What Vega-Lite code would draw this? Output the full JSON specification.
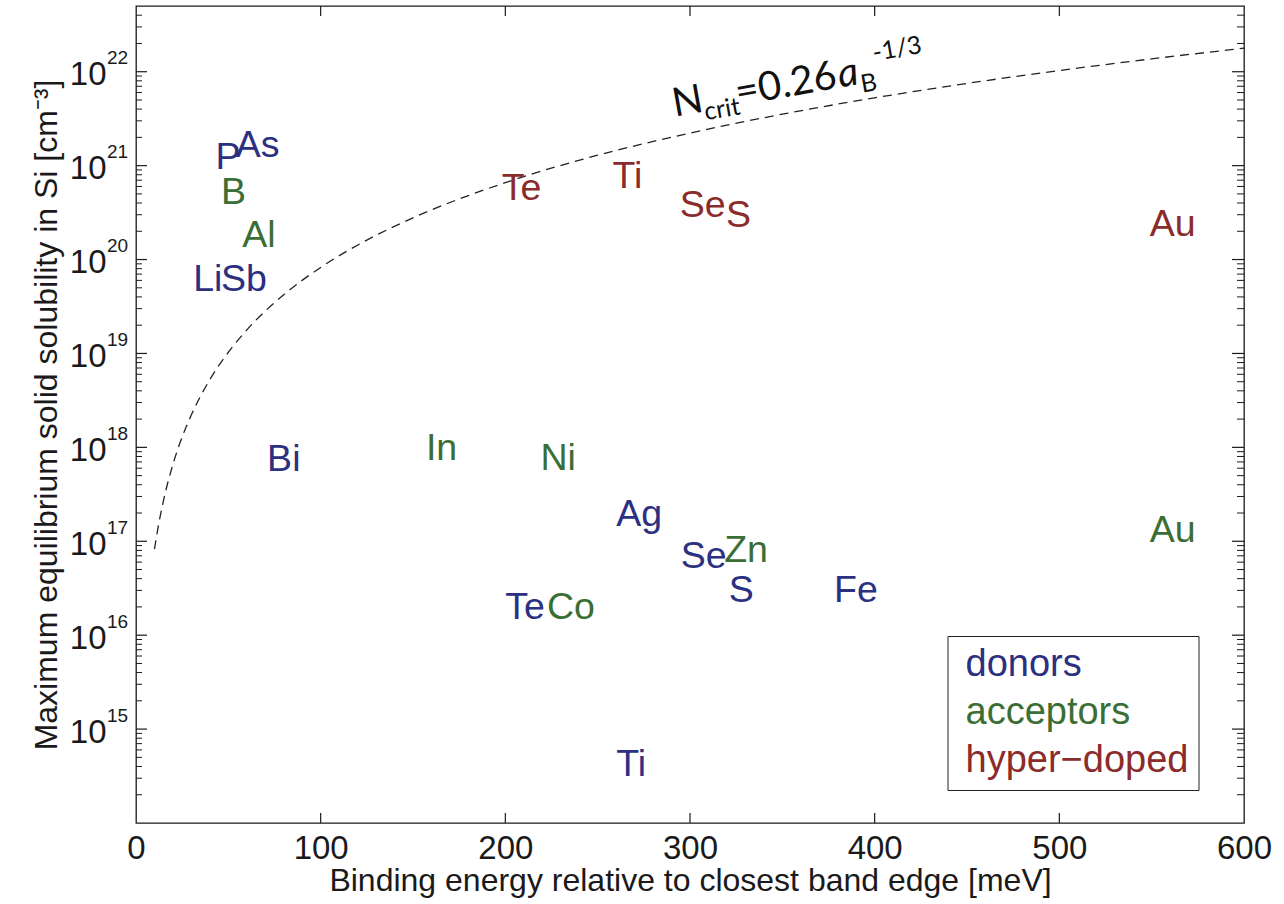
{
  "$schema": "https://vega.github.io/schema/vega-lite/v6.json",
  "width": 1108,
  "height": 817,
  "autosize": {"type": "none"},
  "padding": {"left": 136, "top": 6, "right": 40, "bottom": 81},
  "background": "white",
  "datasets": {
    "decades": [
      {"v": 1e15}, {"v": 1e16}, {"v": 1e17}, {"v": 1e18}, {"v": 1e19}, {"v": 1e20}, {"v": 1e21}, {"v": 1e22}
    ],
    "subdecades": [
      {"v": 2e14}, {"v": 3e14}, {"v": 4e14}, {"v": 5e14}, {"v": 6e14}, {"v": 7e14}, {"v": 8e14}, {"v": 9e14},
      {"v": 2e15}, {"v": 3e15}, {"v": 4e15}, {"v": 5e15}, {"v": 6e15}, {"v": 7e15}, {"v": 8e15}, {"v": 9e15},
      {"v": 2e16}, {"v": 3e16}, {"v": 4e16}, {"v": 5e16}, {"v": 6e16}, {"v": 7e16}, {"v": 8e16}, {"v": 9e16},
      {"v": 2e17}, {"v": 3e17}, {"v": 4e17}, {"v": 5e17}, {"v": 6e17}, {"v": 7e17}, {"v": 8e17}, {"v": 9e17},
      {"v": 2e18}, {"v": 3e18}, {"v": 4e18}, {"v": 5e18}, {"v": 6e18}, {"v": 7e18}, {"v": 8e18}, {"v": 9e18},
      {"v": 2e19}, {"v": 3e19}, {"v": 4e19}, {"v": 5e19}, {"v": 6e19}, {"v": 7e19}, {"v": 8e19}, {"v": 9e19},
      {"v": 2e20}, {"v": 3e20}, {"v": 4e20}, {"v": 5e20}, {"v": 6e20}, {"v": 7e20}, {"v": 8e20}, {"v": 9e20},
      {"v": 2e21}, {"v": 3e21}, {"v": 4e21}, {"v": 5e21}, {"v": 6e21}, {"v": 7e21}, {"v": 8e21}, {"v": 9e21},
      {"v": 2e22}, {"v": 3e22}, {"v": 4e22}
    ],
    "energyTicks": [
      {"e": 100}, {"e": 200}, {"e": 300}, {"e": 400}, {"e": 500}
    ]
  },
  "config": {
    "view": {"stroke": "#1a1a1a", "strokeWidth": 1.3},
    "font": "Liberation Sans",
    "axis": {
      "grid": false,
      "domain": false,
      "ticks": false,
      "labelFont": "Liberation Sans",
      "titleFont": "Liberation Sans",
      "labelColor": "#1a1a1a",
      "titleColor": "#1a1a1a",
      "titleFontWeight": "normal",
      "labelOverlap": false,
      "labelFlush": false
    }
  },
  "layer": [
    {
      "data": {
        "values": [
          {"E": 10, "N": 8.24e16},
          {"E": 12, "N": 1.42e17},
          {"E": 15, "N": 2.78e17},
          {"E": 20, "N": 6.59e17},
          {"E": 25, "N": 1.29e18},
          {"E": 30, "N": 2.22e18},
          {"E": 40, "N": 5.27e18},
          {"E": 50, "N": 1.03e19},
          {"E": 60, "N": 1.78e19},
          {"E": 80, "N": 4.22e19},
          {"E": 100, "N": 8.24e19},
          {"E": 125, "N": 1.61e20},
          {"E": 150, "N": 2.78e20},
          {"E": 200, "N": 6.59e20},
          {"E": 250, "N": 1.29e21},
          {"E": 300, "N": 2.22e21},
          {"E": 350, "N": 3.53e21},
          {"E": 400, "N": 5.27e21},
          {"E": 450, "N": 7.51e21},
          {"E": 500, "N": 1.03e22},
          {"E": 550, "N": 1.37e22},
          {"E": 600, "N": 1.78e22}
        ]
      },
      "mark": {"type": "line", "strokeDash": [9, 6], "strokeWidth": 1.3, "color": "#222222", "interpolate": "monotone"},
      "encoding": {
        "x": {
          "field": "E", "type": "quantitative",
          "scale": {"domain": [0, 600], "nice": false, "zero": false},
          "axis": {
            "orient": "bottom",
            "values": [0, 100, 200, 300, 400, 500, 600],
            "labelPadding": 9, "labelFontSize": 33,
            "title": "Binding energy relative to closest band edge [meV]",
            "titleFontSize": 32, "titlePadding": 0
          }
        },
        "y": {
          "field": "N", "type": "quantitative",
          "scale": {"type": "log", "domain": [1e14, 5.01e22], "nice": false},
          "axis": {
            "orient": "left",
            "values": [1e15, 1e16, 1e17, 1e18, 1e19, 1e20, 1e21, 1e22],
            "labelExpr": "round(log(datum.value) / LN10) + ''",
            "labelAlign": "left", "labelBaseline": "alphabetic",
            "labelPadding": 29.5, "labelOffset": -8, "labelFontSize": 19,
            "title": null
          }
        }
      }
    },
    {
      "data": {"name": "decades"},
      "mark": {"type": "tick", "orient": "horizontal", "size": 22, "thickness": 1.2, "color": "#1a1a1a", "opacity": 1, "clip": true},
      "encoding": {
        "x": {"datum": 0, "type": "quantitative", "scale": {"domain": [0, 600], "nice": false, "zero": false}, "axis": null},
        "y": {"field": "v", "type": "quantitative", "scale": {"type": "log", "domain": [1e14, 5.01e22], "nice": false}, "axis": null}
      }
    },
    {
      "data": {"name": "decades"},
      "mark": {"type": "tick", "orient": "horizontal", "size": 24, "thickness": 1.2, "color": "#1a1a1a", "opacity": 1, "clip": true},
      "encoding": {
        "x": {"datum": 600, "type": "quantitative", "scale": {"domain": [0, 600], "nice": false, "zero": false}, "axis": null},
        "y": {"field": "v", "type": "quantitative", "scale": {"type": "log", "domain": [1e14, 5.01e22], "nice": false}, "axis": null}
      }
    },
    {
      "data": {"name": "subdecades"},
      "mark": {"type": "tick", "orient": "horizontal", "size": 12, "thickness": 1, "color": "#1a1a1a", "opacity": 1, "clip": true},
      "encoding": {
        "x": {"datum": 0, "type": "quantitative", "scale": {"domain": [0, 600], "nice": false, "zero": false}, "axis": null},
        "y": {"field": "v", "type": "quantitative", "scale": {"type": "log", "domain": [1e14, 5.01e22], "nice": false}, "axis": null}
      }
    },
    {
      "data": {"name": "subdecades"},
      "mark": {"type": "tick", "orient": "horizontal", "size": 14, "thickness": 1, "color": "#1a1a1a", "opacity": 1, "clip": true},
      "encoding": {
        "x": {"datum": 600, "type": "quantitative", "scale": {"domain": [0, 600], "nice": false, "zero": false}, "axis": null},
        "y": {"field": "v", "type": "quantitative", "scale": {"type": "log", "domain": [1e14, 5.01e22], "nice": false}, "axis": null}
      }
    },
    {
      "data": {"name": "energyTicks"},
      "mark": {"type": "tick", "orient": "vertical", "size": 20, "thickness": 1.2, "color": "#1a1a1a", "opacity": 1, "clip": true},
      "encoding": {
        "x": {"field": "e", "type": "quantitative", "scale": {"domain": [0, 600], "nice": false, "zero": false}, "axis": null},
        "y": {"datum": 1e14, "type": "quantitative", "scale": {"type": "log", "domain": [1e14, 5.01e22], "nice": false}, "axis": null}
      }
    },
    {
      "data": {"name": "energyTicks"},
      "mark": {"type": "tick", "orient": "vertical", "size": 20, "thickness": 1.2, "color": "#1a1a1a", "opacity": 1, "clip": true},
      "encoding": {
        "x": {"field": "e", "type": "quantitative", "scale": {"domain": [0, 600], "nice": false, "zero": false}, "axis": null},
        "y": {"datum": 5.01e22, "type": "quantitative", "scale": {"type": "log", "domain": [1e14, 5.01e22], "nice": false}, "axis": null}
      }
    },
    {
      "data": {
        "values": [
          {"el": "P", "E": 43, "S": 1.21e21, "kind": "donors"},
          {"el": "As", "E": 54, "S": 1.62e21, "kind": "donors"},
          {"el": "Li", "E": 31, "S": 6.1e19, "kind": "donors"},
          {"el": "Sb", "E": 46, "S": 6.1e19, "kind": "donors"},
          {"el": "Bi", "E": 71, "S": 7.4e17, "kind": "donors"},
          {"el": "Ag", "E": 260, "S": 1.9e17, "kind": "donors"},
          {"el": "Se", "E": 295, "S": 6.8e16, "kind": "donors"},
          {"el": "S", "E": 321, "S": 2.95e16, "kind": "donors"},
          {"el": "Fe", "E": 378, "S": 2.95e16, "kind": "donors"},
          {"el": "Te", "E": 200, "S": 1.95e16, "kind": "donors"},
          {"el": "Ti", "E": 260, "S": 4.1e14, "kind": "donors"},
          {"el": "B", "E": 46, "S": 5.1e20, "kind": "acceptors"},
          {"el": "Al", "E": 57.5, "S": 1.78e20, "kind": "acceptors"},
          {"el": "In", "E": 157, "S": 9.5e17, "kind": "acceptors"},
          {"el": "Ni", "E": 219, "S": 7.6e17, "kind": "acceptors"},
          {"el": "Zn", "E": 318.5, "S": 7.9e16, "kind": "acceptors"},
          {"el": "Co", "E": 222.5, "S": 1.95e16, "kind": "acceptors"},
          {"el": "Au", "E": 549, "S": 1.29e17, "kind": "acceptors"},
          {"el": "Te", "E": 198, "S": 5.7e20, "kind": "hyper−doped"},
          {"el": "Ti", "E": 258, "S": 7.6e20, "kind": "hyper−doped"},
          {"el": "Se", "E": 294.5, "S": 3.7e20, "kind": "hyper−doped"},
          {"el": "S", "E": 319.5, "S": 2.9e20, "kind": "hyper−doped"},
          {"el": "Au", "E": 549, "S": 2.33e20, "kind": "hyper−doped"}
        ]
      },
      "mark": {"type": "text", "align": "left", "baseline": "middle", "font": "Liberation Sans", "fontSize": 37.5},
      "encoding": {
        "x": {
          "field": "E", "type": "quantitative",
          "scale": {"domain": [0, 600], "nice": false, "zero": false},
          "axis": null
        },
        "y": {
          "field": "S", "type": "quantitative",
          "scale": {"type": "log", "domain": [1e14, 5.01e22], "nice": false},
          "axis": {
            "orient": "left",
            "values": [1e15, 1e16, 1e17, 1e18, 1e19, 1e20, 1e21, 1e22],
            "labelExpr": "'10'",
            "labelPadding": 30, "labelBaseline": "alphabetic", "labelOffset": 13, "labelFontSize": 33,
            "title": "Maximum equilibrium solid solubility in Si [cm⁻³]",
            "titleFontSize": 32, "titlePadding": 6
          }
        },
        "text": {"field": "el"},
        "color": {
          "field": "kind", "type": "nominal",
          "scale": {"domain": ["donors", "acceptors", "hyper−doped"], "range": ["#2b3080", "#3b6e34", "#8b2b2b"]},
          "legend": {
            "title": null,
            "orient": "none",
            "legendX": 811.5,
            "legendY": 630,
            "direction": "vertical",
            "strokeColor": "#222222",
            "fillColor": "#ffffff",
            "padding": 10,
            "symbolSize": 0,
            "symbolOpacity": 0,
            "symbolStrokeWidth": 0,
            "labelFont": "Liberation Sans",
            "labelFontSize": 38,
            "labelOffset": -30,
            "labelLimit": 400,
            "rowPadding": 10,
            "encode": {"labels": {"update": {"fill": {"scale": "color", "field": "value"}}}}
          }
        }
      }
    },
    {
      "data": {"values": [{}]},
      "mark": {"type": "text", "text": "N", "font": "Lato", "fontSize": 40, "angle": -10, "align": "left", "baseline": "alphabetic", "color": "#111111"},
      "encoding": {
        "x": {"datum": 291.7, "type": "quantitative", "scale": {"domain": [0, 600], "nice": false, "zero": false}, "axis": null},
        "y": {"datum": 3.32e21, "type": "quantitative", "scale": {"type": "log", "domain": [1e14, 5.01e22], "nice": false}, "axis": null}
      }
    },
    {
      "data": {"values": [{}]},
      "mark": {"type": "text", "text": "crit", "font": "Lato", "fontSize": 25, "angle": -10, "align": "left", "baseline": "alphabetic", "dx": 30, "dy": 9, "color": "#111111"},
      "encoding": {
        "x": {"datum": 291.7, "type": "quantitative", "scale": {"domain": [0, 600], "nice": false, "zero": false}, "axis": null},
        "y": {"datum": 3.32e21, "type": "quantitative", "scale": {"type": "log", "domain": [1e14, 5.01e22], "nice": false}, "axis": null}
      }
    },
    {
      "data": {"values": [{}]},
      "mark": {"type": "text", "text": "=0.26", "font": "Lato", "fontSize": 40, "angle": -10, "align": "left", "baseline": "alphabetic", "dx": 64, "color": "#111111"},
      "encoding": {
        "x": {"datum": 291.7, "type": "quantitative", "scale": {"domain": [0, 600], "nice": false, "zero": false}, "axis": null},
        "y": {"datum": 3.32e21, "type": "quantitative", "scale": {"type": "log", "domain": [1e14, 5.01e22], "nice": false}, "axis": null}
      }
    },
    {
      "data": {"values": [{}]},
      "mark": {"type": "text", "text": "a", "font": "Lato", "fontStyle": "italic", "fontSize": 40, "angle": -10, "align": "left", "baseline": "alphabetic", "dx": 168, "color": "#111111"},
      "encoding": {
        "x": {"datum": 291.7, "type": "quantitative", "scale": {"domain": [0, 600], "nice": false, "zero": false}, "axis": null},
        "y": {"datum": 3.32e21, "type": "quantitative", "scale": {"type": "log", "domain": [1e14, 5.01e22], "nice": false}, "axis": null}
      }
    },
    {
      "data": {"values": [{}]},
      "mark": {"type": "text", "text": "B", "font": "Lato", "fontSize": 25, "angle": -10, "align": "left", "baseline": "alphabetic", "dx": 189, "dy": 9, "color": "#111111"},
      "encoding": {
        "x": {"datum": 291.7, "type": "quantitative", "scale": {"domain": [0, 600], "nice": false, "zero": false}, "axis": null},
        "y": {"datum": 3.32e21, "type": "quantitative", "scale": {"type": "log", "domain": [1e14, 5.01e22], "nice": false}, "axis": null}
      }
    },
    {
      "data": {"values": [{}]},
      "mark": {"type": "text", "text": "-1/3", "font": "Lato", "fontSize": 25, "angle": -10, "align": "left", "baseline": "alphabetic", "dx": 206, "dy": -20, "color": "#111111"},
      "encoding": {
        "x": {"datum": 291.7, "type": "quantitative", "scale": {"domain": [0, 600], "nice": false, "zero": false}, "axis": null},
        "y": {"datum": 3.32e21, "type": "quantitative", "scale": {"type": "log", "domain": [1e14, 5.01e22], "nice": false}, "axis": null}
      }
    }
  ],
  "resolve": {"axis": {"x": "independent", "y": "independent"}}
}
